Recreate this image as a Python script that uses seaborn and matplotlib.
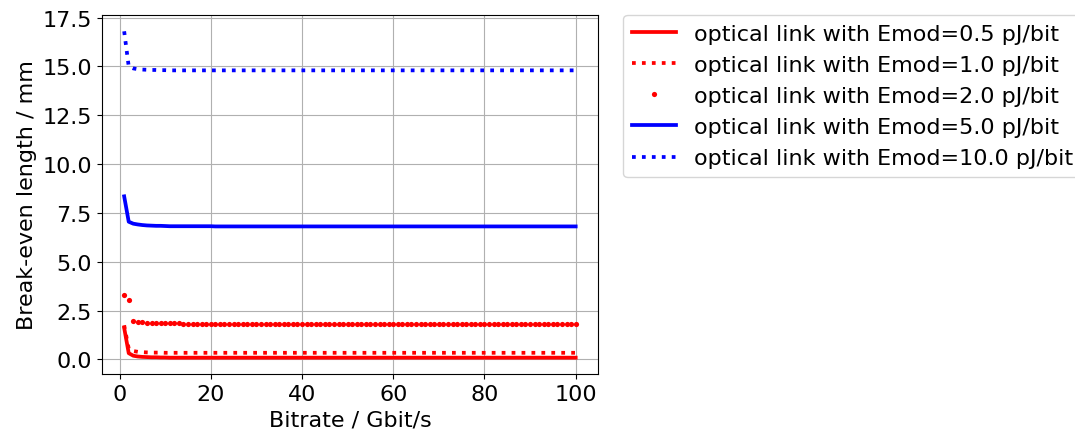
import matplotlib
matplotlib.use("Agg")
import pandas as pd
import matplotlib.pyplot as plt
import seaborn as sb

bitrate = list(range(1, 101))

# break-even length (mm); the curves go flat after a few points
emod_05 = [1.62, 0.32, 0.19, 0.15, 0.13, 0.12, 0.11, 0.11, 0.10, 0.10] + [0.09] * 90
emod_10 = [1.75, 0.55, 0.43, 0.39, 0.37, 0.36, 0.35, 0.35, 0.35, 0.34] + [0.34] * 90
emod_20 = [3.30, 3.05, 1.95, 1.92, 1.90, 1.88, 1.87, 1.86, 1.86, 1.85,
           1.85, 1.85, 1.84, 1.83, 1.82, 1.82, 1.81, 1.81, 1.81, 1.81] + [1.80] * 80
emod_50 = [8.35, 7.05, 6.95, 6.91, 6.88, 6.86, 6.85, 6.84, 6.84, 6.83] + [6.82] * 10 + [6.81] * 80
emod_100 = [16.8, 15.0, 14.9, 14.86, 14.84, 14.83, 14.82, 14.82, 14.81, 14.81] + [14.8] * 90

labels = ["optical link with Emod=0.5 pJ/bit",
          "optical link with Emod=1.0 pJ/bit",
          "optical link with Emod=2.0 pJ/bit",
          "optical link with Emod=5.0 pJ/bit",
          "optical link with Emod=10.0 pJ/bit"]

df = pd.DataFrame({"Bitrate": bitrate, "e05": emod_05, "e10": emod_10,
                   "e20": emod_20, "e50": emod_50, "e100": emod_100})

plt.rcParams["font.size"] = 16
fig = plt.figure(figsize=(10.75, 4.39), dpi=100)
ax = fig.add_axes([0.0945, 0.1458, 0.462, 0.8178])

sb.lineplot(x="Bitrate", y="e05", data=df, color="red", linewidth=2.7, label=labels[0], ax=ax)
sb.lineplot(x="Bitrate", y="e10", data=df, color="red", linewidth=2.7, linestyle=":", label=labels[1], ax=ax)
sb.lineplot(x="Bitrate", y="e20", data=df, color="red", linestyle="none", marker=".",
            markersize=7.5, markeredgewidth=0, label=labels[2], ax=ax)
sb.lineplot(x="Bitrate", y="e50", data=df, color="blue", linewidth=2.7, label=labels[3], ax=ax)
sb.lineplot(x="Bitrate", y="e100", data=df, color="blue", linewidth=2.7, linestyle=":", label=labels[4], ax=ax)

ax.grid(True)
ax.set_xlabel("Bitrate / Gbit/s")
ax.set_ylabel("Break-even length / mm")
ax.legend(loc="upper left", bbox_to_anchor=(1.05, 1), borderaxespad=0)

plt.savefig("out.png", dpi=100)
